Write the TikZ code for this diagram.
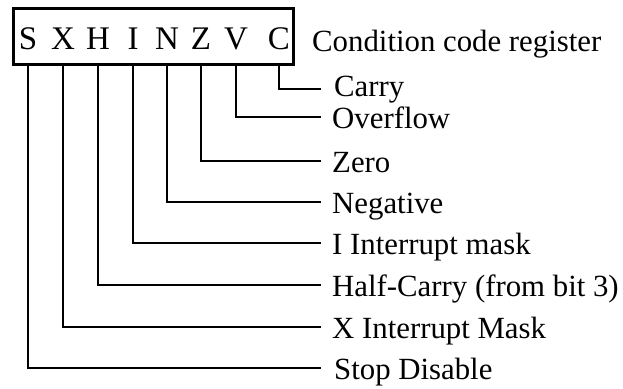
\documentclass[tikz,border=0pt]{standalone}
\usepackage{fontspec}
\setmainfont{Liberation Serif}
\begin{document}
\begin{tikzpicture}[x=1pt,y=-1pt,
  bit/.style={inner sep=0pt,font=\fontsize{33}{33}\selectfont,anchor=base},
  lab/.style={inner sep=0pt,font=\fontsize{30.8}{31}\selectfont,anchor=base west},
  conn/.style={line width=1.6pt}]
\useasboundingbox (0,0) rectangle (623,388);
\node[draw,line width=3pt,minimum width=280pt,minimum height=56pt,inner sep=0pt] (box) at (153,36) {};
\node[bit] (S) at (28,49) {S};
\node[bit] (X) at (63,49) {X};
\node[bit] (H) at (98,49) {H};
\node[bit] (I) at (133,49) {I};
\node[bit] (N) at (167,49) {N};
\node[bit] (Z) at (201,49) {Z};
\node[bit] (V) at (236,49) {V};
\node[bit] (C) at (279,49) {C};
\node[lab] (title) at (312,51) {Condition code register};
\coordinate (eC) at (321,89);
\coordinate (eV) at (321,117);
\coordinate (eZ) at (321,161);
\coordinate (eN) at (321,202);
\coordinate (eI) at (321,243);
\coordinate (eH) at (321,285);
\coordinate (eX) at (321,327);
\coordinate (eS) at (321,368);
\node[lab] (lC) at (334,96) {Carry};
\node[lab] (lV) at (332,128) {Overflow};
\node[lab] (lZ) at (332,172) {Zero};
\node[lab] (lN) at (332,213) {Negative};
\node[lab] (lI) at (332,254) {I Interrupt mask};
\node[lab] (lH) at (332,296) {Half-Carry (from bit 3)};
\node[lab] (lX) at (332,338) {X Interrupt Mask};
\node[lab] (lS) at (334,379) {Stop Disable};
\foreach \b in {S,X,H,I,N,Z,V,C}
  \draw[conn] (box.south -| \b) |- (e\b);
\end{tikzpicture}
\end{document}
